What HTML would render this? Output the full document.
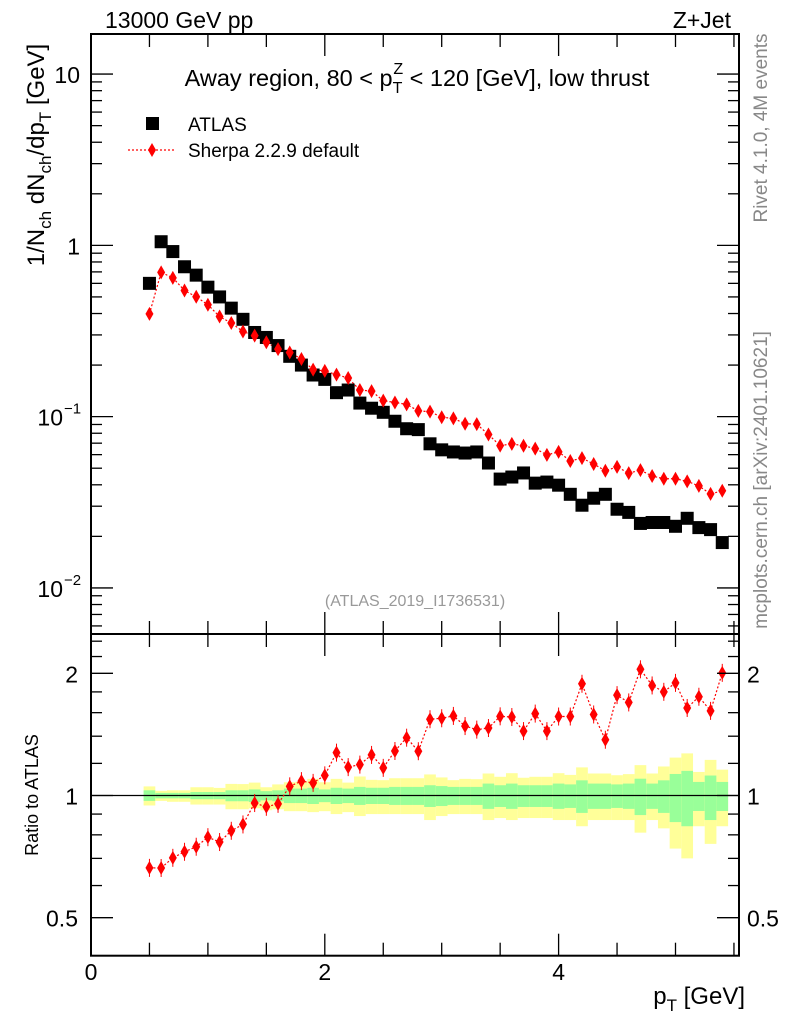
<!DOCTYPE html>
<html><head><meta charset="utf-8">
<style>
html,body{margin:0;padding:0;background:#fff;}
svg{display:block;font-family:"Liberation Sans",Arial,sans-serif;}
</style></head>
<body>
<svg id="chart" width="786" height="1024" viewBox="0 0 786 1024">
<rect x="0" y="0" width="786" height="1024" fill="#fff"/>
<g id="bands"></g>
<g id="marks"></g>
<g id="axes"></g>
<text x="105" y="28" font-size="23">13000 GeV pp</text>
<text x="731" y="28" font-size="23" text-anchor="end">Z+Jet</text>
<text x="417" y="86" font-size="23.5" text-anchor="middle">Away region, 80 &lt; p<tspan font-size="16" dy="7">T</tspan><tspan font-size="16" dx="-9" dy="-19">Z</tspan><tspan dy="12"> &lt; 120 [GeV], low thrust</tspan></text>
<g>
<rect x="146" y="117" width="13" height="13" fill="#000"/>
<text x="188" y="131" font-size="19">ATLAS</text>
<line x1="128" y1="150" x2="176" y2="150" stroke="red" stroke-width="1.2" stroke-dasharray="2,2"/>
<path d="M152,143 L156,150 L152,157 L148,150Z" fill="red"/>
<text x="188" y="157" font-size="19">Sherpa 2.2.9 default</text>
</g>
<text transform="translate(44,155) rotate(-90)" font-size="24" text-anchor="middle">1/N<tspan font-size="17" dy="7">ch</tspan><tspan dy="-7"> dN</tspan><tspan font-size="17" dy="7">ch</tspan><tspan dy="-7">/dp</tspan><tspan font-size="17" dy="7">T</tspan><tspan dy="-7"> [GeV]</tspan></text>
<text transform="translate(38,795) rotate(-90)" font-size="18" text-anchor="middle">Ratio to ATLAS</text>
<text transform="translate(767,128) rotate(-90)" font-size="19" fill="#888" text-anchor="middle">Rivet 4.1.0,  4M events</text>
<text transform="translate(767,480) rotate(-90)" font-size="19" fill="#888" text-anchor="middle">mcplots.cern.ch [arXiv:2401.10621]</text>
<text x="415" y="606" font-size="16" fill="#999" text-anchor="middle">(ATLAS_2019_I1736531)</text>
<text x="745" y="1004" font-size="24" text-anchor="end">p<tspan font-size="17" dy="7">T</tspan><tspan dy="-7"> [GeV]</tspan></text>
</svg>
<script>
const binCenters=[0.5,0.6,0.7,0.8,0.9,1.0,1.1,1.2,1.3,1.4,1.5,1.6,1.7,1.8,1.9,2.0,2.1,2.2,2.3,2.4,2.5,2.6,2.7,2.8,2.9,3.0,3.1,3.2,3.3,3.4,3.5,3.6,3.7,3.8,3.9,4.0,4.1,4.2,4.3,4.4,4.5,4.6,4.7,4.8,4.9,5.0,5.1,5.2,5.3,5.4];
const atlasValues=[0.60,1.05,0.92,0.75,0.67,0.57,0.50,0.43,0.37,0.31,0.29,0.26,0.225,0.20,0.175,0.165,0.138,0.143,0.12,0.112,0.106,0.094,0.085,0.084,0.0694,0.064,0.0622,0.0613,0.0622,0.0536,0.0432,0.0444,0.0469,0.0409,0.0415,0.0398,0.0352,0.0304,0.0334,0.0352,0.0288,0.0276,0.0238,0.0241,0.0241,0.0229,0.0255,0.0225,0.0219,0.0184];
const sherpaValues=[0.398,0.696,0.646,0.545,0.501,0.450,0.384,0.352,0.314,0.297,0.272,0.248,0.237,0.217,0.188,0.185,0.176,0.168,0.143,0.141,0.124,0.121,0.118,0.108,0.107,0.0992,0.0977,0.0909,0.0904,0.0786,0.0677,0.0693,0.0676,0.0651,0.0598,0.0623,0.0551,0.0573,0.0529,0.0483,0.0509,0.0468,0.0487,0.0450,0.0434,0.0434,0.0419,0.0394,0.0354,0.0369];
const yellowUp=[.053,.027,.03,.03,.048,.048,.044,.068,.067,.076,.048,.065,.078,.082,.099,.078,.099,.076,.114,.093,.091,.103,.103,.103,.127,.108,.091,.099,.097,.133,.112,.135,.106,.112,.112,.135,.124,.173,.133,.133,.122,.129,.188,.133,.179,.24,.27,.143,.224,.158];
const yellowDown=[.055,.03,.035,.035,.05,.05,.05,.075,.075,.07,.08,.075,.085,.085,.09,.085,.1,.09,.11,.1,.1,.1,.1,.1,.13,.11,.1,.1,.1,.13,.12,.13,.12,.12,.12,.13,.13,.16,.13,.13,.13,.13,.19,.13,.17,.26,.3,.16,.24,.16];
const greenUp=[.03,.015,.015,.015,.02,.02,.02,.03,.03,.035,.025,.03,.04,.04,.045,.035,.045,.04,.05,.045,.045,.05,.05,.05,.06,.055,.05,.05,.05,.07,.06,.07,.06,.06,.06,.07,.065,.09,.07,.07,.065,.07,.1,.07,.09,.13,.15,.08,.12,.08];
const greenDown=[.03,.016,.016,.016,.021,.021,.021,.032,.032,.036,.027,.032,.042,.042,.047,.037,.047,.042,.052,.047,.047,.052,.052,.052,.063,.058,.052,.052,.052,.073,.063,.073,.063,.063,.063,.073,.068,.094,.073,.073,.068,.073,.105,.073,.094,.14,.16,.084,.13,.084];
const xTicksMajor=[0,2,4];
const mainTickLabels=[{v:10,t:"10"},{v:1,t:"1"},{v:0.1,t:"10",e:"−1"},{v:0.01,t:"10",e:"−2"}];
const ratioTickLabels=[{v:2,t:"2"},{v:1,t:"1"},{v:0.5,t:"0.5"}];

const NS="http://www.w3.org/2000/svg";
const L=91,R=739,MT=34,MB=634,RB=955.7;
const X0=0,X1=(R-L)/116.9;
const sx=v=>L+(v-X0)/(X1-X0)*(R-L);
const yMainLogTop=1.234,yMainLogBot=-2.269;
const sy=v=>MT+(yMainLogTop-Math.log10(v))/(yMainLogTop-yMainLogBot)*(MB-MT);
const rLogTop=Math.log10(2.5),rLogBot=Math.log10(0.403);
const sr=v=>MB+(rLogTop-Math.log10(v))/(rLogTop-rLogBot)*(RB-MB);
function mk(tag,attrs,parent){const e=document.createElementNS(NS,tag);for(const k in attrs)e.setAttribute(k,attrs[k]);parent.appendChild(e);return e;}
const bands=document.getElementById('bands'),marks=document.getElementById('marks'),axes=document.getElementById('axes');
const hw=0.05;
binCenters.forEach((c,i)=>{
  const x1=sx(c-hw),x2=sx(c+hw);
  let r=mk('rect',{x:x1,y:sr(1+yellowUp[i]),width:x2-x1,height:sr(1-yellowDown[i])-sr(1+yellowUp[i]),fill:'#ffff99'},bands);
  
  
  r=mk('rect',{x:x1,y:sr(1+greenUp[i]),width:x2-x1,height:sr(1-greenDown[i])-sr(1+greenUp[i]),fill:'#99ff99'},bands);
  
  
});
let ln=mk('line',{x1:L,x2:R,y1:sr(1),y2:sr(1),stroke:'#000','stroke-width':1.3},marks);


let pm='',pr='';
binCenters.forEach((c,i)=>{const r=sherpaValues[i]/atlasValues[i];pm+=(i?'L':'M')+sx(c)+','+sy(sherpaValues[i]);pr+=(i?'L':'M')+sx(c)+','+sr(r);});
let p=mk('path',{d:pm,fill:'none',stroke:'red','stroke-width':1.2,'stroke-dasharray':'2,2'},marks);


p=mk('path',{d:pr,fill:'none',stroke:'red','stroke-width':1.2,'stroke-dasharray':'2,2'},marks);


function diamond(x,y){return `M${x},${y-7} L${x+4},${y} L${x},${y+7} L${x-4},${y}Z`;}
binCenters.forEach((c,i)=>{
  const x=sx(c);
  let s=mk('rect',{x:x-6.5,y:sy(atlasValues[i])-6.5,width:13,height:13,fill:'#000'},marks);
  
  
  let d=mk('path',{d:diamond(x,sy(sherpaValues[i])),fill:'red'},marks);
  
  
  const r=sherpaValues[i]/atlasValues[i],yr=sr(r);
  let e=mk('line',{x1:x,x2:x,y1:yr-9,y2:yr+9,stroke:'red','stroke-width':1},marks);
  
  
  d=mk('path',{d:diamond(x,yr),fill:'red'},marks);
  
  
});
[[MT,MB,'main-frame'],[MB,RB,'ratio-frame']].forEach(f=>{
  const r=mk('rect',{x:L,y:f[0],width:R-L,height:f[1]-f[0],fill:'none',stroke:'#000','stroke-width':2},axes);
  
  
});
for(let v=0;v<=X1+1e-6;v+=0.5){
  const x=sx(v),maj=Math.abs(v-Math.round(v/2)*2)<1e-6,len=maj?22:13;
  [[MT,1],[MB,-1],[MB,1],[RB,-1]].forEach(t=>{
    const l=mk('line',{x1:x,x2:x,y1:t[0],y2:t[0]+t[1]*len,stroke:'#000','stroke-width':1.3},axes);
    
    
  });
}
xTicksMajor.forEach(v=>{
  const t=mk('text',{x:sx(v),y:980,'font-size':23,'text-anchor':'middle'},axes);t.textContent=v;
  
  
});
for(let dec=-3;dec<=1;dec++){for(let m=1;m<=9;m++){const v=m*Math.pow(10,dec);const y=sy(v);if(y<MT||y>MB)continue;const len=m==1?22:11;
  [[L,1],[R,-1]].forEach(t=>{const l=mk('line',{x1:t[0],x2:t[0]+t[1]*len,y1:y,y2:y,stroke:'#000','stroke-width':1.3},axes);
  
  });}}
mainTickLabels.forEach(o=>{
  const t=mk('text',{x:o.e?63:80,y:sy(o.v)+9,'font-size':23,'text-anchor':'end'},axes);t.textContent=o.t;
  
  
  if(o.e){const s=mk('text',{x:64,y:sy(o.v)-3,'font-size':15},axes);s.textContent=o.e;
    
    }
});
[0.5,0.6,0.7,0.8,0.9,1,1.2,1.4,1.6,1.8,2,2.2,2.4].forEach(v=>{const y=sr(v);const len=(v==0.5||v==1||v==2)?22:11;
  [[L,1],[R,-1]].forEach(t=>{const l=mk('line',{x1:t[0],x2:t[0]+t[1]*len,y1:y,y2:y,stroke:'#000','stroke-width':1.3},axes);
  
  });});
ratioTickLabels.forEach(o=>{
  let t=mk('text',{x:78,y:sr(o.v)+9,'font-size':23,'text-anchor':'end'},axes);t.textContent=o.t;
  
  
  t=mk('text',{x:747,y:sr(o.v)+9,'font-size':23},axes);t.textContent=o.t;
  
  
});
</script>
</body></html>
